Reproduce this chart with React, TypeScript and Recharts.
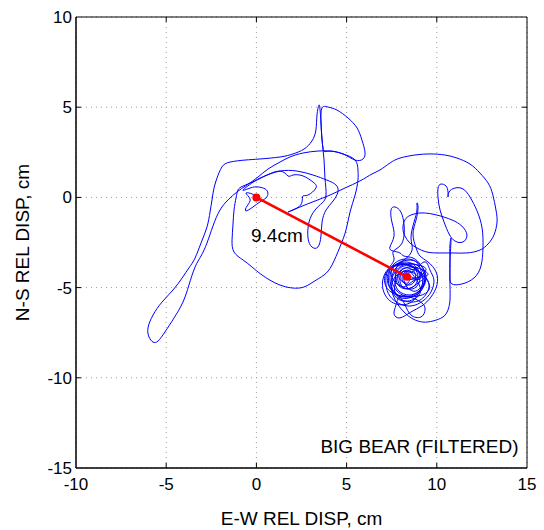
import React from 'react';
import {
  ScatterChart,
  Scatter,
  XAxis,
  YAxis,
  CartesianGrid,
  ReferenceLine,
  ReferenceArea,
  ReferenceDot,
} from 'recharts';

// Displacement trace (cm), E-W then N-S, in time order
const traceEW = [
  0, -0.24, -0.58, -0.35, -0.52, -0.58, -0.19, 0.2, 0.53, 0.64, 0.48, 0.09, -0.35, -0.74,
  -0.08, 0.48, 1.31, 2.25, 3.14, 3.91, 4.41, 4.52,
  4.25, 3.86, 3.64, 3.58, 3.41, 3.08, 2.86, 2.92, 3.25, 3.64, 3.86,
  3.8, 3.75, 3.64, 3.58, 3.53, 3.47,
  3.36, 3.3, 3.08, 2.64, 2.03, 1.31, 0.2, -0.63, -1.46, -1.91,
  -2.18, -2.35, -2.46, -2.57, -2.74, -3.07, -3.4, -3.74, -4.12, -4.62, -5.23, -5.73, -6.01, -5.95, -5.73,
  -5.45, -5.07, -4.57, -4.07, -3.74, -3.4, -3.07, -2.74, -2.41, -2.02, -1.57, -1.08,
  -0.52, 0.09, 0.64, 1.31, 1.86, 2.58, 3.41, 4.08, 4.8, 5.47, 5.91,
  6.02, 5.85, 5.58, 5.08, 4.47, 3.97, 3.64,
  3.58, 3.64, 3.75, 4.08, 4.8, 5.47,
  5.63, 5.63, 5.47, 5.19, 4.97, 4.63, 4.19, 3.75, 3.14, 2.42, 1.31, 0.31, -0.24, -0.74, -1.24, -1.35, -1.3, -1.24, -1.13, -1.02, -0.74,
  -0.08, 0.48, 1.31,
  1.75, 2.03, 2.58, 3.14, 3.3, 2.86, 2.58, 2.53, 2.25, 1.75,
  2.42, 3.25, 4.08, 4.91, 5.74, 6.41, 6.85, 7.41, 7.96,
  8.79, 9.62, 10.45, 11.12, 11.84, 12.39, 12.84, 13.11, 13.28, 13.34, 13.17, 12.84, 12.39, 11.67, 10.9, 10.18, 9.46, 8.9, 8.51, 8.23, 8.12, 8.23, 8.56, 9.18, 10.01, 10.84, 11.39, 11.67, 11.45, 11.01, 10.68, 10.4, 10.18, 10.07, 10.07, 10.23, 10.51, 10.62, 10.62,
  10.68, 11.01, 11.45, 11.84, 12.23, 12.51, 12.56, 12.45, 12.06, 11.39, 10.84, 10.73, 10.73, 10.73, 10.79,
  10.73, 10.73, 10.73, 10.62, 10.34, 9.79, 9.23, 8.68,
  8.24, 7.85, 7.57, 7.46, 7.68, 8.13, 8.74, 9.18, 9.35, 9.01, 8.46, 7.9, 7.68, 7.79, 8.18, 8.68, 9.01, 9.01, 8.63, 8.13, 7.96, 8.18, 8.63,
  9.29, 9.62, 9.84, 9.68, 9.23, 8.63, 7.96, 7.4, 7.18, 7.29, 7.63, 7.57,
  7.96, 8.18, 8.18, 8.01, 7.68, 7.46, 7.51, 7.63, 7.4, 7.57, 7.96, 8.18,
  8.68, 9.12, 9.4, 9.23, 8.74, 8.07, 7.57, 7.4, 7.63, 8.18,
  8.63, 8.57, 8.74, 8.9, 8.9, 8.96, 8.85, 8.68, 8.85, 9.07,
  9.51, 9.96, 10.01, 9.68, 9.18, 8.57, 7.96, 7.63, 7.74, 8.07,
  9.01, 9.35, 9.12, 8.57, 8.24,
  7.85, 7.4, 7.35, 7.68, 8.29, 8.9, 9.29, 9.29, 8.9, 8.29, 7.74, 7.51, 7.74, 8.24, 8.74, 8.96, 8.68, 8.18, 7.85, 7.96, 8.4, 8.79, 8.74, 8.35, 8.07, 8.24, 8.51,
  9.1, 8.8, 8.1, 7.4, 7.3, 7.8, 8.6, 9.2,
  9.1, 8.7, 8.0, 7.7, 7.9, 8.6, 9.2,
  9.0, 8.4, 7.5, 7.0, 7.2, 7.9, 8.8, 9.3,
  9.2, 8.8, 8.3, 8.2, 8.6, 9.1,
  9.6, 9.2, 8.3, 7.4, 7.1, 7.5, 8.5, 9.4,
  8.6, 8.1, 7.6, 7.5, 7.9, 8.5,
  9.5, 9.3, 8.6, 7.8, 7.7, 8.1, 8.9, 9.5,
  8.65, 8.4, 8.0, 7.95, 8.3, 8.6,
  9.1, 8.6, 7.8, 7.5, 7.8, 8.5, 9.0,
  8.6, 8.35,
];
const traceNS = [
  0, 0.19, 0.24, -0.09, -0.48, -0.75, -0.53, -0.25, -0.03, 0.24, 0.47, 0.58, 0.52, 0.41,
  0.91, 1.19, 1.46, 1.46, 1.24, 0.96, 0.69, 0.3,
  -0.2, -0.7, -1.36, -2.14, -2.75, -2.75, -2.25, -1.36, -0.7, -0.31, 0.13,
  1.08, 2.07, 3.18, 4.18, 4.84, 5.12,
  4.57, 3.74, 3.13, 2.68, 2.41, 2.24, 2.13, 2.07, 1.96, 1.69,
  1.08, 0.52, -0.14, -0.81, -1.64, -2.53, -3.36, -3.91, -4.47, -5.13, -5.8, -6.52, -7.24, -7.74, -8.02,
  -7.96, -7.46, -6.69, -5.8, -4.86, -3.86, -3.25, -2.53, -1.59, -0.7, -0.14, 0.3,
  0.69, 1.13, 1.57, 1.96, 2.24, 2.46, 2.57, 2.57, 2.41, 2.07, 2.13,
  2.52, 3.18, 3.85, 4.4, 4.84, 5.01, 4.96,
  4.18, 3.18, 2.57, 2.57, 2.41, 2.07,
  1.52, 0.96, 0.13, -0.81, -1.8, -2.75, -3.75, -4.3, -4.69, -5.02, -4.86, -4.3, -3.86, -3.47, -3.03, -2.36, -1.53, -0.7, -0.03, 0.41, 0.63,
  0.91, 1.19, 1.46,
  1.19, 1.24, 1.19, 0.85, 0.52, 0.13, 0.08, -0.25, -0.59, -0.81,
  -0.53, -0.2, 0.13, 0.52, 0.91, 1.3, 1.52, 1.91, 2.18,
  2.35, 2.41, 2.35, 2.18, 1.85, 1.35, 0.8, 0.13, -0.7, -1.36, -2.08, -2.58, -2.92, -3.08, -3.08, -3.08, -3.03, -2.8, -2.53, -2.14, -1.7, -1.25, -0.98, -0.86, -0.98, -1.25, -1.59, -2.08, -2.47, -2.42, -2.03, -1.36, -0.7, -0.03, 0.52, 0.74, 0.63, 0.3, 0.02,
  0.3, 0.52, 0.47, 0.02, -0.75, -1.7, -2.8, -3.8, -4.47, -4.8, -4.8, -4.36, -3.47, -2.64, -2.31,
  -3.58, -4.85, -5.69, -6.24, -6.63, -6.85, -6.91, -6.74,
  -6.41, -5.96, -5.41, -4.74, -4.14, -3.75, -3.69, -4.02, -4.63, -5.19, -5.41, -5.19, -4.69, -4.14, -3.8, -3.86, -4.19, -4.74, -5.08, -4.97, -4.52, -4.07, -4.13,
  -3.58, -4.02, -4.57, -5.24, -5.74, -6.01, -5.91, -5.47, -4.8, -4.02, -3.47, -3.03,
  -2.69, -2.14, -1.47, -0.81, -0.53, -0.7, -1.36, -2.14, -2.75, -2.97, -3.08, -3.25,
  -3.36, -3.75, -4.35, -5.02, -5.47, -5.58, -5.13, -4.46, -3.8, -3.47,
  -2.92, -2.25, -1.36, -0.7, -0.31, -0.53, -1.25, -2.03, -2.8, -3.25,
  -3.58, -4.13, -4.85, -5.52, -6.01, -6.35, -6.68, -6.46, -5.96, -5.47,
  -5.74, -6.19, -6.63, -6.52, -5.96,
  -5.41, -4.97, -4.24, -3.64, -3.41, -3.58, -4.07, -4.74, -5.3, -5.47, -5.13, -4.52, -3.91, -3.69, -3.91, -4.46, -4.96, -5.02, -4.63, -4.07, -3.91, -4.19, -4.69, -4.85, -4.52, -4.13, -4.35,
  -4.5, -3.8, -3.6, -4.0, -4.8, -5.4, -5.5, -5.0,
  -4.0, -3.5, -3.6, -4.2, -4.9, -5.0, -4.6,
  -5.3, -5.9, -5.8, -5.0, -4.1, -3.7, -3.9, -4.6,
  -4.9, -5.2, -4.9, -4.3, -4.0, -4.2,
  -4.9, -5.4, -5.5, -5.2, -4.5, -3.9, -3.7, -4.0,
  -4.7, -4.95, -4.6, -4.0, -3.7, -3.8,
  -4.6, -5.5, -5.8, -5.5, -4.7, -4.0, -3.9, -4.3,
  -4.5, -4.75, -4.6, -4.25, -4.05, -4.2,
  -5.1, -5.7, -5.6, -4.9, -4.3, -4.1, -4.5,
  -4.55, -4.4,
];

// Net displacement: start and final position (cm)
const netEW = [0, 8.35];
const netNS = [0, -4.4];

const xTicks = [-10, -5, 0, 5, 10, 15];
const yTicks = [-15, -10, -5, 0, 5, 10];
const innerXTicks = [-5, 0, 5, 10];
const innerYTicks = [-10, -5, 0, 5];

const annotation = { text: '9.4cm', x: -0.3, y: -2.08 };
const stationLabel = { text: 'BIG BEAR (FILTERED)', x: 14.53, y: -13.81 };

const traceData = traceEW.map((x, i) => ({ x, y: traceNS[i] }));
const netData = netEW.map((x, i) => ({ x, y: netNS[i] }));

const TICK_LEN = 0.28;
const FONT = "'Liberation Sans', Arial, Helvetica, sans-serif";

const NoShape = () => <g />;
const RedDot = (props: any) => <circle cx={props.cx} cy={props.cy} r={4} fill="#ff0000" />;

export default function App() {
  return (
    <div style={{ position: 'absolute', left: 0, top: 0, fontFamily: FONT }}>
      <ScatterChart width={544} height={530} margin={{ top: 17, right: 17, bottom: 0, left: 0 }}>
        <CartesianGrid stroke="#9a9a9a" strokeDasharray="1 4" strokeWidth={1} />
        <XAxis
          type="number"
          dataKey="x"
          domain={[-10, 15]}
          ticks={xTicks}
          allowDataOverflow
          height={62}
          tickLine={false}
          tickSize={0}
          tickMargin={10}
          axisLine={{ stroke: '#000' }}
          tick={{ fill: '#000', fontSize: 17 }}
          interval={0}
          label={{ value: 'E-W REL DISP, cm', position: 'insideBottom', offset: 5, fill: '#000', fontSize: 19 }}
        />
        <YAxis
          type="number"
          dataKey="y"
          domain={[-15, 10]}
          ticks={yTicks}
          allowDataOverflow
          width={76}
          tickLine={false}
          tickSize={0}
          tickMargin={4}
          axisLine={{ stroke: '#000' }}
          tick={{ fill: '#000', fontSize: 17 }}
          interval={0}
          label={{
            value: 'N-S REL DISP, cm',
            angle: -90,
            position: 'insideLeft',
            offset: 22,
            fill: '#000',
            fontSize: 19,
            style: { textAnchor: 'middle' },
          }}
        />
        <Scatter
          data={traceData}
          shape={NoShape}
          line={{ stroke: '#0000ff', strokeWidth: 1 }}
          lineJointType="natural"
          isAnimationActive={false}
        />
        <Scatter
          data={netData}
          shape={RedDot}
          line={{ stroke: '#ff0000', strokeWidth: 2.6 }}
          isAnimationActive={false}
        />
        {innerXTicks.map((v) => (
          <ReferenceLine key={'b' + v} segment={[{ x: v, y: -15 }, { x: v, y: -15 + TICK_LEN }]} stroke="#000" />
        ))}
        {innerXTicks.map((v) => (
          <ReferenceLine key={'t' + v} segment={[{ x: v, y: 10 }, { x: v, y: 10 - TICK_LEN }]} stroke="#000" />
        ))}
        {innerYTicks.map((v) => (
          <ReferenceLine key={'l' + v} segment={[{ x: -10, y: v }, { x: -10 + TICK_LEN, y: v }]} stroke="#000" />
        ))}
        {innerYTicks.map((v) => (
          <ReferenceLine key={'r' + v} segment={[{ x: 15, y: v }, { x: 15 - TICK_LEN, y: v }]} stroke="#000" />
        ))}
        <ReferenceArea x1={-10} x2={15} y1={-15} y2={10} fill="none" fillOpacity={0} stroke="#000" strokeWidth={1} />
        <ReferenceDot
          x={annotation.x}
          y={annotation.y}
          r={0}
          fill="none"
          stroke="none"
          label={{ value: annotation.text, position: 'right', offset: 0, fill: '#000', fontSize: 19 }}
        />
        <ReferenceDot
          x={stationLabel.x}
          y={stationLabel.y}
          r={0}
          fill="none"
          stroke="none"
          label={{ value: stationLabel.text, position: 'left', offset: 0, fill: '#000', fontSize: 19 }}
        />
      </ScatterChart>
    </div>
  );
}
